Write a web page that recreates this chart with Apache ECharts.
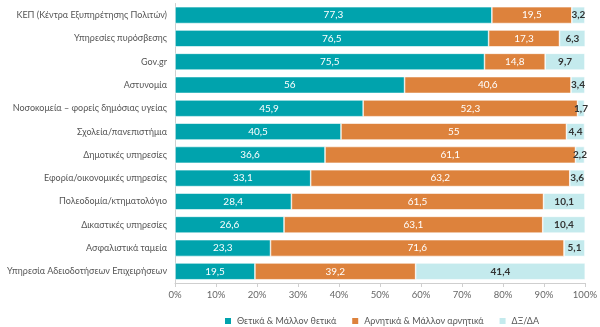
<!DOCTYPE html>
<html>
<head>
<meta charset="utf-8">
<script src="https://cdn.jsdelivr.net/npm/echarts@6/dist/echarts.min.js"></script>
<style>
  html, body { margin: 0; padding: 0; background: #fff; }
  #chart { width: 600px; height: 327px; }
</style>
</head>
<body>
<div id="chart"></div>
<script>
// Services, top to bottom
const categories = [
  'ΚΕΠ (Κέντρα Εξυπηρέτησης Πολιτών)',
  'Υπηρεσίες πυρόσβεσης',
  'Gov.gr',
  'Αστυνομία',
  'Νοσοκομεία – φορείς δημόσιας υγείας',
  'Σχολεία/πανεπιστήμια',
  'Δημοτικές υπηρεσίες',
  'Εφορία/οικονομικές υπηρεσίες',
  'Πολεοδομία/κτηματολόγιο',
  'Δικαστικές υπηρεσίες',
  'Ασφαλιστικά ταμεία',
  'Υπηρεσία Αδειοδοτήσεων Επιχειρήσεων'
];
const positive = [77.3, 76.5, 75.5, 56, 45.9, 40.5, 36.6, 33.1, 28.4, 26.6, 23.3, 19.5];
const negative = [19.5, 17.3, 14.8, 40.6, 52.3, 55, 61.1, 63.2, 61.5, 63.1, 71.6, 39.2];
const unknown  = [3.2, 6.3, 9.7, 3.4, 1.7, 4.4, 2.2, 3.6, 10.1, 10.4, 5.1, 41.4];
const seriesNames = ['Θετικά & Μάλλον θετικά', 'Αρνητικά & Μάλλον αρνητικά', 'ΔΞ/ΔΑ'];
const xTicks = [0, 10, 20, 30, 40, 50, 60, 70, 80, 90, 100];

const FONT = 'Lato, "Noto Sans", sans-serif';
const fmt = v => String(v).replace('.', ',');

function barSeries(name, data, color, labelColor) {
  return {
    name: name,
    type: 'bar',
    stack: 'total',
    barCategoryGap: '28%',
    data: data,
    itemStyle: { color: color, borderColor: '#ffffff', borderWidth: 0.6 },
    label: {
      show: true,
      position: 'inside',
      color: labelColor,
      fontFamily: FONT,
      fontSize: 10,
      fontWeight: labelColor === '#ffffff' ? 'normal' : 'bold',
      formatter: p => fmt(p.value)
    },
    emphasis: { disabled: true }
  };
}

const chart = echarts.init(document.getElementById('chart'), null, { renderer: 'canvas' });
chart.setOption({
  animation: false,
  textStyle: { fontFamily: FONT },
  grid: { left: 175, right: 12, top: 3.5, bottom: 44, containLabel: false },
  xAxis: {
    type: 'value',
    min: xTicks[0],
    max: xTicks[xTicks.length - 1],
    interval: 10,
    axisLine: { show: true, lineStyle: { color: '#cfcfcf', width: 1 } },
    axisTick: { show: true, length: 4, lineStyle: { color: '#cfcfcf' } },
    splitLine: { show: false },
    axisLabel: { color: '#666', fontSize: 9.5, fontFamily: FONT, margin: 7, formatter: v => v + '%' }
  },
  yAxis: {
    type: 'category',
    inverse: true,
    data: categories,
    axisLine: { show: true, lineStyle: { color: '#cfcfcf', width: 1 } },
    axisTick: { show: false },
    axisLabel: { color: '#555', fontSize: 9, fontFamily: FONT, margin: 8 }
  },
  legend: {
    top: 311,
    left: 218,
    padding: 5,
    itemWidth: 8,
    itemHeight: 8,
    itemGap: 14,
    icon: 'rect',
    textStyle: { color: '#555', fontSize: 9, fontFamily: FONT },
    data: seriesNames
  },
  series: [
    barSeries(seriesNames[0], positive, '#00a3ad', '#ffffff'),
    barSeries(seriesNames[1], negative, '#dd823c', '#ffffff'),
    barSeries(seriesNames[2], unknown, '#c4eaed', '#333333')
  ]
});
</script>
</body>
</html>
